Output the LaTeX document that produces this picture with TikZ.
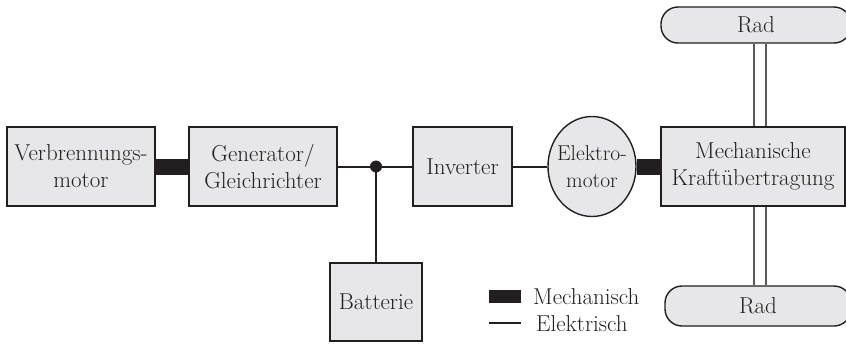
\documentclass[tikz,border=0pt]{standalone}
\usepackage{fontspec}
\usetikzlibrary{shapes.geometric}
\definecolor{ink}{RGB}{35,31,32}
\definecolor{boxfill}{RGB}{231,231,233}
\definecolor{shaft}{RGB}{90,90,90}
\begin{document}
\begin{tikzpicture}[x=1pt,y=-1pt,
  every node/.style={font=\fontsize{23}{27}\selectfont, text=ink},
  block/.style={draw=ink, line width=1.4pt, fill=boxfill, align=center, inner sep=0pt},
  radbox/.style={draw=ink, line width=1.4pt, fill=boxfill, rounded corners=17pt, inner sep=0pt},
  mech/.style={draw=ink, line width=16pt},
  elec/.style={draw=ink, line width=2pt},
  shaftline/.style={draw=shaft, line width=1.4pt}]
\useasboundingbox (0,0) rectangle (846,343);
\node[block, minimum width=148pt, minimum height=79pt] (vm) at (81,166.5) {Verbrennungs-\\motor};
\node[block, minimum width=148pt, minimum height=79pt] (gen) at (263,166.5) {Generator/\\Gleichrichter};
\node[block, minimum width=99pt, minimum height=79pt] (inv) at (462.5,166.5) {Inverter};
\node[block, ellipse, minimum width=88pt, minimum height=100pt] (em) at (592,166.5) {};
\node[align=center, inner sep=0pt, font=\fontsize{21.5}{27}\selectfont] (emt) at (em.center) {Elektro-\\motor};
\node[block, minimum width=184pt, minimum height=79pt] (mt) at (753,166.5) {Mechanische\\Kraftübertragung};
\node[radbox, minimum width=190pt, minimum height=36pt] (radt) at (756,25) {Rad};
\node[radbox, minimum width=186pt, minimum height=40pt] (radb) at (758,306) {Rad};
\node[block, minimum width=92pt, minimum height=78pt] (bat) at (376,302) {Batterie};
\coordinate (dot) at (376,166.5);
% mechanical links
\draw[mech] (vm.east) -- (gen.west);
\draw[mech] (em.east) -- (mt.west);
% electrical links
\draw[elec] (gen.east) -- (inv.west);
\draw[elec] (inv.east) -- (em.west);
\draw[elec] (dot) -- (bat.north);
\fill[ink] (dot) circle (6pt);
% shafts
\draw[shaftline] (754,0 |- radt.south) -- (754,0 |- mt.north);
\draw[shaftline] (766,0 |- radt.south) -- (766,0 |- mt.north);
\draw[shaftline] (754,0 |- mt.south) -- (754,0 |- radb.north);
\draw[shaftline] (766,0 |- mt.south) -- (766,0 |- radb.north);
% legend
\node[fill=ink, minimum width=32pt, minimum height=13pt, inner sep=0pt] (lgm) at (505,296.5) {};
\coordinate (lgea) at (489,323);
\coordinate (lgeb) at (521,323);
\draw[elec] (lgea) -- (lgeb);
\node[anchor=west, inner sep=0pt] (lgmt) at (533,297) {Mechanisch};
\node[anchor=west, inner sep=0pt] (lget) at (536,324) {Elektrisch};
\end{tikzpicture}
\end{document}
